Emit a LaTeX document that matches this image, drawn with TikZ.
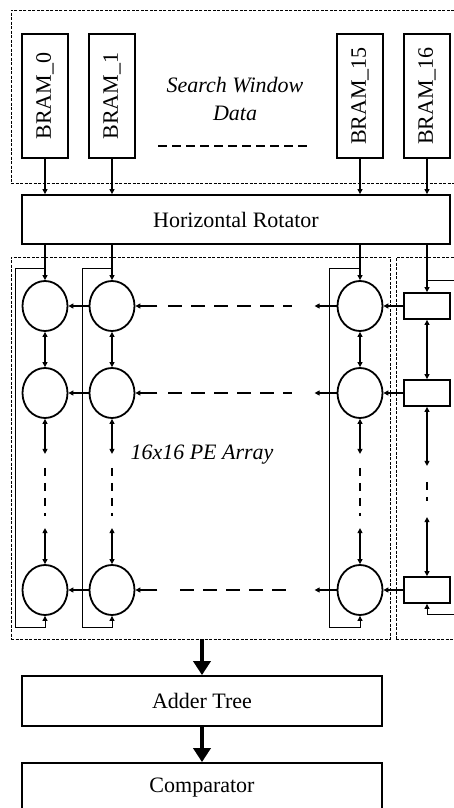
\documentclass[tikz,border=0pt]{standalone}
\usepackage{fontspec}
\usepackage{graphicx}
\setmainfont{Liberation Serif}
\usetikzlibrary{arrows.meta,shapes.geometric}

\begin{document}
\begin{tikzpicture}[x=1pt, y=-1pt,
  font=\fontsize{22}{28}\selectfont,
  blk/.style={draw, line width=1.8pt, inner sep=0pt},
  pe/.style={draw, ellipse, line width=1.8pt, minimum width=45pt, minimum height=50pt, inner sep=0pt},
  reg/.style={draw, line width=1.8pt, minimum width=46pt, minimum height=26pt, inner sep=0pt},
  region/.style={draw, dash pattern=on 3pt off 1.5pt, line width=0.9pt, inner sep=0pt},
  arr/.style={-{Triangle[length=5pt,width=5pt]}, line width=1.1pt},
  darr/.style={{Triangle[length=5pt,width=5pt]}-{Triangle[length=5pt,width=5pt]}, line width=1.1pt},
  loopline/.style={arr, line width=0.9pt},
  gap/.style={line width=1.9pt, dash pattern=on 14pt off 9pt},
  vgap/.style={line width=2.2pt, dash pattern=on 8pt off 7pt},
  topgap/.style={line width=1.8pt, dash pattern=on 9pt off 5pt},
  bigarr/.style={-{Triangle[length=14pt,width=17pt]}, line width=4pt}]
\useasboundingbox (0,0) rectangle (454,808);
\clip (0,0) rectangle (454,808);

% search window memory
\node[region, minimum width=459pt, minimum height=173pt] (win) at (240.5,96.5) {};
\foreach \n/\x in {0/45, 1/112, 15/360, 16/427}
  \node[blk, minimum width=46pt, minimum height=124pt] (bram\n) at (\x,96) {\rotatebox{90}{BRAM\_\n}};
\node[font=\fontsize{22}{28}\selectfont\itshape, align=center] (swd) at (235,99) {Search Window\\Data};
\draw[topgap] (158,146) -- (310,146);

\node[blk, minimum width=428pt, minimum height=49pt] (rot) at (236,219.5) {Horizontal Rotator};
\foreach \n in {0,1,15,16}
  \draw[arr] (bram\n) -- (bram\n |- rot.north);

% PE array
\node[region, minimum width=379pt, minimum height=382pt] (pearr) at (200.5,448) {};
\node[region, minimum width=74pt, minimum height=382pt] (regs) at (433,448) {};
\node[font=\fontsize{22}{28}\selectfont\itshape] (pelbl) at (202,455) {16x16 PE Array};

\foreach \r/\y in {0/306, 1/393, 2/590} {
  \foreach \c/\x in {0/45, 1/112, 15/360}
    \node[pe] (p\r-\c) at (\x,\y) {};
  \node[reg] (q\r) at (427,\y) {};
}

% rows
\foreach \r/\s in {0/33, 1/33, 2/45} {
  \draw[arr] (p\r-1) -- (p\r-0);
  \draw[arr] ([xshift=22pt]p\r-1.east) -- (p\r-1.east);
  \draw[gap] ([xshift=\s pt]p\r-1.east) -- ([xshift=-45pt]p\r-15.west);
  \draw[arr] (p\r-15.west) -- ([xshift=-22pt]p\r-15.west);
  \draw[arr] (q\r) -- (p\r-15);
}

% columns
\foreach \c/\l in {0/15, 1/82, 15/329} {
  \draw[arr] (rot.south -| p0-\c) -- (p0-\c);
  \draw[darr] (p0-\c) -- (p1-\c);
  \draw[darr] (p1-\c.south) -- ([yshift=-35pt]p1-\c.south);
  \draw[vgap] ([yshift=-49pt]p1-\c.south) -- ([yshift=48pt]p2-\c.north);
  \draw[darr] ([yshift=36pt]p2-\c.north) -- (p2-\c.north);
  \draw[loopline] ([yshift=12pt]p0-\c.north) -| (\l,627) -| (p2-\c.south);
}

\draw[arr] (rot.south -| q0) -- (q0);
\draw[darr] (q0) -- (q1);
\draw[darr] (q1.south) -- ([yshift=-59pt]q1.south);
\draw[vgap] ([yshift=-75pt]q1.south) -- ([yshift=75pt]q2.north);
\draw[darr] ([yshift=59pt]q2.north) -- (q2.north);
\draw[loopline] ([yshift=12pt]q0.north) -| (470,614) -| (q2.south);

% output stages
\node[blk, minimum width=360pt, minimum height=50pt] (adder) at (202,701) {Adder Tree};
\node[blk, minimum width=360pt, minimum height=50pt] (cmp) at (202,788) {Comparator};
\draw[bigarr] (adder.north |- pearr.south) -- (adder);
\draw[bigarr] (adder) -- (cmp);
\end{tikzpicture}
\end{document}
